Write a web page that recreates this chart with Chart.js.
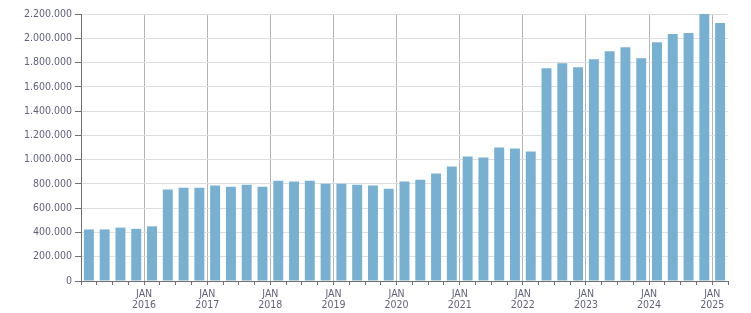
<!DOCTYPE html>
<html>
<head>
<meta charset="utf-8">
<script src="https://cdn.jsdelivr.net/npm/chart.js@4.4.1/dist/chart.umd.min.js"></script>
<style>
  html, body { margin: 0; padding: 0; background: #fff; }
  #wrap { width: 751px; height: 313px; }
</style>
</head>
<body>
<div id="wrap"><canvas id="barChart" width="751" height="313"></canvas></div>
<script>
// quarters, Q1 2015 .. Q1 2025
const categories = [
  "2015 Q1", "2015 Q2", "2015 Q3", "2015 Q4",
  "2016 Q1", "2016 Q2", "2016 Q3", "2016 Q4",
  "2017 Q1", "2017 Q2", "2017 Q3", "2017 Q4",
  "2018 Q1", "2018 Q2", "2018 Q3", "2018 Q4",
  "2019 Q1", "2019 Q2", "2019 Q3", "2019 Q4",
  "2020 Q1", "2020 Q2", "2020 Q3", "2020 Q4",
  "2021 Q1", "2021 Q2", "2021 Q3", "2021 Q4",
  "2022 Q1", "2022 Q2", "2022 Q3", "2022 Q4",
  "2023 Q1", "2023 Q2", "2023 Q3", "2023 Q4",
  "2024 Q1", "2024 Q2", "2024 Q3", "2024 Q4",
  "2025 Q1"
];

const values = [
  425000, 425000, 440000, 430000,
  450000, 753000, 769000, 769000,
  786000, 777000, 794000, 777000,
  827000, 819000, 827000, 802000,
  802000, 794000, 786000, 761000,
  819000, 835000, 885000, 943000,
  1026000, 1017000, 1100000, 1092000,
  1067000, 1753000, 1795000, 1762000,
  1828000, 1894000, 1927000, 1836000,
  1968000, 2035000, 2043000, 2205000,
  2126000
];

const yMax = 2200000;
const yStep = 200000;
const monthLabel = "JAN";

const textColor = "#62627c";
const font = { family: "'DejaVu Sans Condensed', 'DejaVu Sans', sans-serif", size: 10.5, lineHeight: 1.12 };

function isYearStart(i) {
  return i > 0 && i < categories.length && categories[i].endsWith("Q1");
}

function dots(n) {
  return String(n).replace(/\B(?=(\d{3})+(?!\d))/g, ".");
}

const ctx = document.getElementById("barChart").getContext("2d");
const chart = new Chart(ctx, {
  type: "bar",
  data: {
    labels: categories,
    datasets: [{
      data: values,
      backgroundColor: "#78b0d2",
      borderWidth: 0,
      categoryPercentage: 1,
      barPercentage: 0.63
    }]
  },
  options: {
    responsive: false,
    animation: false,
    layout: { padding: { top: 14, right: 23, left: 0, bottom: 0 } },
    plugins: { legend: { display: false }, tooltip: { enabled: false } },
    scales: {
      x: {
        offset: true,
        afterFit: s => { s.height = 32; },
        border: { color: "#707070", width: 1 },
        grid: {
          offset: true,
          drawTicks: true,
          tickLength: 4,
          color: c => {
            if (c.index === categories.length) return "#dcdcdc";
            return isYearStart(c.index) ? "#b4b4b4" : "rgba(0,0,0,0)";
          },
          tickColor: c => c.index === categories.length ? "rgba(0,0,0,0)" : "#707070"
        },
        ticks: {
          autoSkip: false,
          maxRotation: 0,
          minRotation: 0,
          padding: 3,
          labelOffset: -7.9,
          color: textColor,
          font: font,
          callback: (v, i) => isYearStart(i) ? [monthLabel, categories[i].slice(0, 4)] : ""
        }
      },
      y: {
        min: 0,
        max: yMax,
        afterFit: s => { s.width = 81; },
        border: { color: "#707070", width: 1 },
        grid: {
          color: "#dddddd",
          tickColor: "#707070",
          tickLength: 6
        },
        ticks: {
          stepSize: yStep,
          padding: 3,
          color: textColor,
          font: font,
          callback: v => dots(v)
        }
      }
    }
  }
});
</script>
</body>
</html>
